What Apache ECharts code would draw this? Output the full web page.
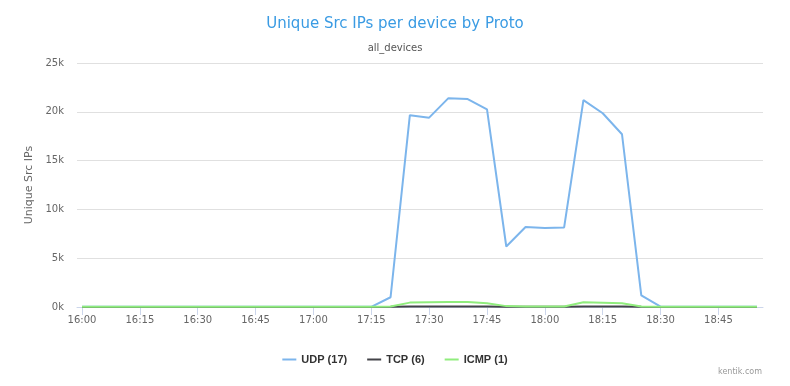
<!DOCTYPE html>
<html>
<head>
<meta charset="utf-8">
<script src="https://cdn.jsdelivr.net/npm/echarts@6/dist/echarts.min.js"></script>
<style>html,body{margin:0;padding:0;background:#fff}#c{width:790px;height:386px}</style>
</head>
<body>
<div id="c"></div>
<script>
const times = ['16:00','16:05','16:10','16:15','16:20','16:25','16:30','16:35','16:40','16:45','16:50','16:55',
  '17:00','17:05','17:10','17:15','17:20','17:25','17:30','17:35','17:40','17:45','17:50','17:55',
  '18:00','18:05','18:10','18:15','18:20','18:25','18:30','18:35','18:40','18:45','18:50','18:55'];
const udp = [20,20,20,20,20,20,20,20,20,20,20,20,
  20,20,20,20,1000,19650,19400,21400,21300,20250,6200,8200,
  8100,8150,21200,19850,17700,1200,30,20,20,20,20,20];
const tcp = [10,10,10,10,10,10,10,10,10,10,10,10,
  10,10,10,10,20,40,40,40,40,40,30,30,
  30,30,40,40,40,20,10,10,10,10,10,10];
const icmp = [20,20,20,20,20,20,20,20,20,20,20,20,
  20,20,20,20,60,450,480,500,500,380,90,60,
  50,60,480,430,380,60,20,20,20,20,20,20];
const seriesNames = ['UDP (17)','TCP (6)','ICMP (1)'];
const yTicks = {min:0, max:25000, interval:5000};

const chart = echarts.init(document.getElementById('c'), null, {renderer:'canvas'});
const font = 'DejaVu Sans, Verdana, sans-serif';
chart.setOption({
  animation:false,
  color:['#7cb5ec','#434348','#90ed7d'],
  title:[
    {text:'Unique Src IPs per device by Proto', left:'center', top:12,
     textStyle:{color:'#3a9be3', fontSize:15, fontWeight:'normal', fontFamily:font}},
    {text:'all_devices', left:'center', top:38,
     textStyle:{color:'#555', fontSize:10, fontWeight:'normal', fontFamily:font}},
    {text:'kentik.com', right:23, top:363,
     textStyle:{color:'#999', fontSize:8, fontWeight:'normal', fontFamily:font}}
  ],
  legend:{
    data:seriesNames, left:'center', top:349, icon:'rect', itemWidth:14, itemHeight:2, itemGap:20,
    textStyle:{color:'#333', fontSize:11, fontWeight:'bold', fontFamily:'Liberation Sans, Arial, sans-serif'}
  },
  grid:[
    {left:82, right:33, top:63, bottom:79},
    {left:77, right:27, top:63, bottom:79}
  ],
  xAxis:[
    {type:'category', gridIndex:0, data:times, boundaryGap:false,
     axisLine:{show:false},
     axisTick:{show:true, interval:2, length:8, lineStyle:{color:'#ccd6eb'}},
     axisLabel:{interval:2, margin:8, color:'#666', fontSize:10, fontFamily:font},
     splitLine:{show:false}},
    {type:'value', gridIndex:1, min:0, max:1, show:true,
     axisLine:{show:true, lineStyle:{color:'#ccd6eb'}},
     axisTick:{show:false}, axisLabel:{show:false}, splitLine:{show:false}}
  ],
  yAxis:[
    {type:'value', gridIndex:0, min:yTicks.min, max:yTicks.max, interval:yTicks.interval, show:false, splitLine:{show:false}},
    {type:'value', gridIndex:1, min:yTicks.min, max:yTicks.max, interval:yTicks.interval,
     name:'Unique Src IPs', nameLocation:'middle', nameGap:41, nameRotate:90,
     nameTextStyle:{color:'#666', fontSize:11, fontFamily:font},
     axisLine:{show:false}, axisTick:{show:false},
     axisLabel:{margin:13, color:'#666', fontSize:10, fontFamily:font, formatter:v=>(v/1000)+'k'},
     splitLine:{lineStyle:{color:'#e0e0e0', width:1}}}
  ],
  series:[
    {name:seriesNames[0], type:'line', data:udp, showSymbol:false, lineStyle:{width:2}},
    {name:seriesNames[1], type:'line', data:tcp, showSymbol:false, lineStyle:{width:2}},
    {name:seriesNames[2], type:'line', data:icmp, showSymbol:false, lineStyle:{width:2}}
  ]
});
</script>
</body>
</html>
